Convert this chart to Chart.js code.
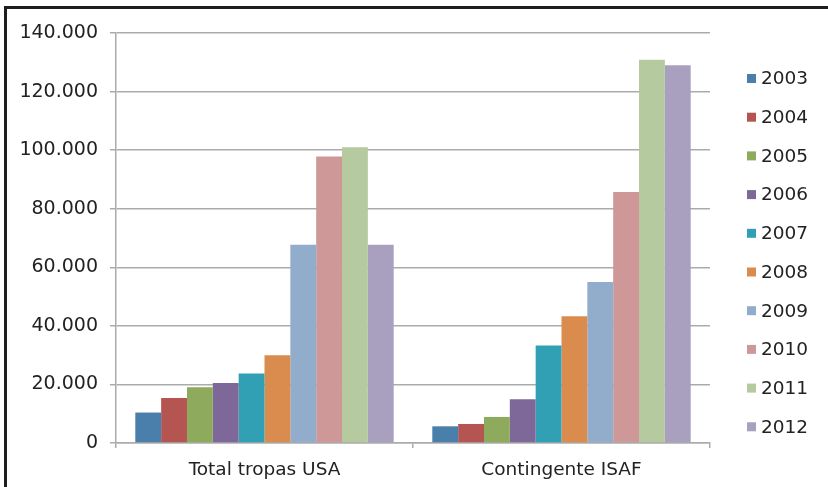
<!DOCTYPE html>
<html>
<head>
<meta charset="utf-8">
<script src="https://cdn.jsdelivr.net/npm/chart.js@4.4.1/dist/chart.umd.min.js"></script>
<style>
  html, body { margin: 0; padding: 0; background: #fff; overflow: hidden; }
  #wrap { position: relative; width: 828px; height: 487px; }
  #frame { position: absolute; left: 4px; top: 6px; width: 900px; height: 900px;
           border-left: 3px solid #1e1e1e; border-top: 3px solid #1e1e1e; pointer-events: none; }
  canvas { position: absolute; left: 0; top: 0; }
</style>
</head>
<body>
<div id="wrap">
  <canvas id="c" width="828" height="487"></canvas>
  <div id="frame"></div>
</div>
<script>
const categories = ['Total tropas USA', 'Contingente ISAF'];
const years = ['2003', '2004', '2005', '2006', '2007', '2008', '2009', '2010', '2011', '2012'];
const usaTroops = [10400, 15400, 19000, 20500, 23700, 30000, 67700, 97800, 101000, 67700];
const isafTroops = [5700, 6500, 8900, 14900, 33300, 43300, 55000, 85700, 130900, 129000];
const yearColors = ['#4a7fac', '#b55552', '#8eaa5d', '#7e6899', '#31a0b4',
                    '#da8c4f', '#92adcc', '#cf9898', '#b5ca9e', '#a9a0bf'];
const yTicks = [0, 20000, 40000, 60000, 80000, 100000, 120000, 140000];

const FONT = 'DejaVu Sans';
const TEXT = '#222222';
const GRID = '#ababab';

function fmt(v) {
  return String(v).replace(/\B(?=(\d{3})+(?!\d))/g, '.');
}

const legendPlugin = {
  id: 'sideLegend',
  afterDraw(chart) {
    const ctx = chart.ctx;
    ctx.save();
    ctx.font = '18.5px "' + FONT + '"';
    ctx.textBaseline = 'middle';
    ctx.textAlign = 'left';
    chart.data.datasets.forEach((ds, i) => {
      const y = 78.5 + i * 38.7;
      ctx.fillStyle = ds.backgroundColor;
      ctx.fillRect(747, y - 4.5, 9, 9);
      ctx.fillStyle = TEXT;
      ctx.fillText(ds.label, 761, y + 1);
    });
    ctx.restore();
  }
};

new Chart(document.getElementById('c'), {
  type: 'bar',
  data: {
    labels: categories,
    datasets: years.map((y, i) => ({
      label: y,
      data: [usaTroops[i], isafTroops[i]],
      backgroundColor: yearColors[i],
      borderWidth: 0,
      barPercentage: 1.0,
      categoryPercentage: 0.87
    }))
  },
  options: {
    responsive: false,
    animation: false,
    devicePixelRatio: 1,
    layout: { padding: { left: 0, top: 33, right: 118, bottom: 0 } },
    plugins: {
      legend: { display: false },
      tooltip: { enabled: false }
    },
    scales: {
      x: {
        offset: true,
        grid: { display: true, drawOnChartArea: false, drawTicks: true, tickLength: 5,
                color: GRID, lineWidth: 1.5 },
        border: { display: true, color: GRID, width: 1.5 },
        ticks: { font: { family: FONT, size: 18.5 }, color: TEXT, padding: 11 },
        afterFit(axis) { axis.height = 44; }
      },
      y: {
        min: 0,
        max: 140000,
        afterBuildTicks(axis) { axis.ticks = yTicks.map(v => ({ value: v })); },
        grid: { color: GRID, lineWidth: 1.5, tickLength: 6 },
        border: { display: true, color: GRID, width: 1.5 },
        ticks: { font: { family: FONT, size: 19 }, color: TEXT, padding: 12,
                 callback: v => fmt(v) },
        afterFit(axis) { axis.width = 116; }
      }
    }
  },
  plugins: [legendPlugin]
});
</script>
</body>
</html>
